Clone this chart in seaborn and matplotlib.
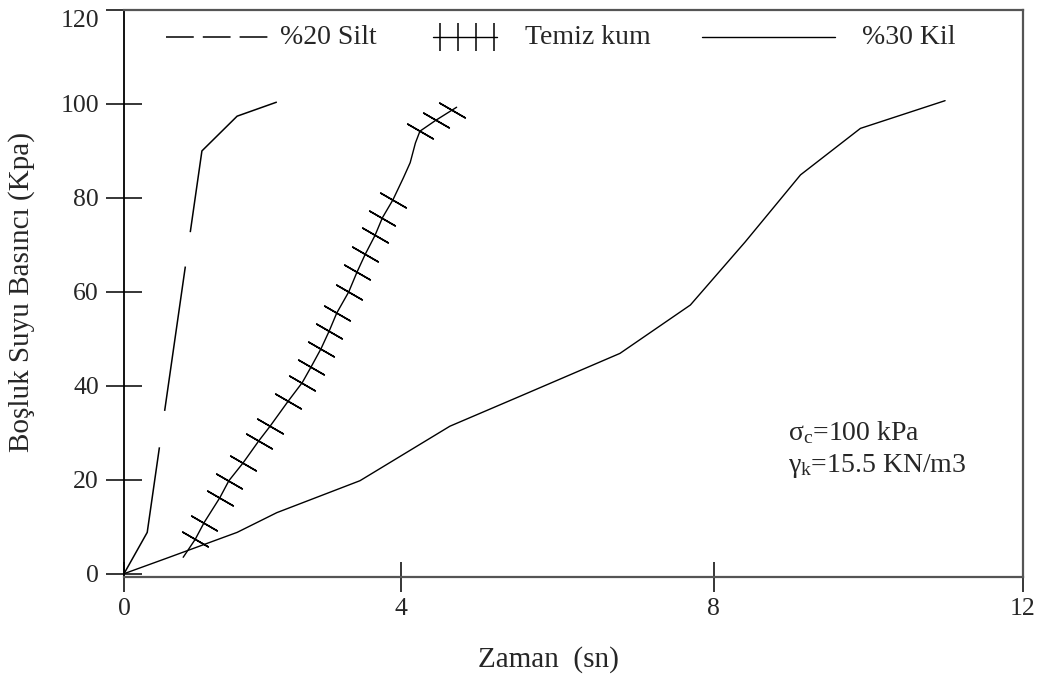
import matplotlib
matplotlib.use("Agg")
import matplotlib.pyplot as plt
import seaborn as sns

# %20 Silt
silt_x = [0, 0.31, 1.04, 1.51, 2.04]
silt_y = [0, 8.8, 90.0, 97.4, 100.4]

# Temiz kum
kum_x = [0.79, 0.95, 1.07, 1.28, 1.40, 1.59, 1.80, 1.95, 2.19, 2.38, 2.50, 2.63, 2.74, 2.84,
         3.00, 3.11, 3.22, 3.35, 3.45, 3.59, 3.73, 3.82, 3.89, 3.95, 4.16, 4.38, 4.44]
kum_y = [3.5, 7.3, 10.9, 16.2, 19.8, 23.6, 28.3, 31.4, 36.7, 40.7, 44.1, 47.9, 51.7, 55.5,
         60.0, 64.2, 68.0, 72.0, 75.8, 79.6, 84.3, 87.5, 91.7, 94.2, 96.5, 98.7, 99.3]
kum_marks = list(range(1, 20)) + [23, 24, 25]

# %30 Kil
kil_x = [0, 0.57, 1.51, 2.04, 3.15, 4.35, 5.29, 6.62, 7.56, 8.29, 9.03, 9.83, 10.96]
kil_y = [0, 3.3, 8.8, 13.0, 19.8, 31.4, 37.8, 46.9, 57.2, 70.6, 84.9, 94.8, 100.7]

xticks = [0, 3.70, 7.87, 12]
xtick_labels = ["0", "4", "8", "12"]
yticks = [0, 20, 40, 60, 80, 100, 120]

sns.set_theme(style="white")
plt.rcParams["font.family"] = ["Liberation Serif", "DejaVu Serif"]
plt.rcParams["mathtext.fontset"] = "custom"
plt.rcParams["mathtext.rm"] = "Liberation Serif"
plt.rcParams["lines.scale_dashes"] = False

fig = plt.figure(figsize=(10.49, 6.75), dpi=100)
ax = fig.add_axes([124 / 1049, 1 - 577 / 675, 899 / 1049, 567 / 675])

sns.lineplot(x=silt_x, y=silt_y, ax=ax, sort=False, estimator=None, color="black",
             lw=1.1, linestyle=(0, (96, 26.5, 105, 25, 150, 30)))
sns.lineplot(x=kum_x, y=kum_y, ax=ax, sort=False, estimator=None, color="black", lw=1.0,
             marker=(2, 2, 60), markersize=22, markeredgewidth=1.1, markeredgecolor="black",
             markevery=kum_marks)
sns.lineplot(x=kil_x, y=kil_y, ax=ax, sort=False, estimator=None, color="black", lw=1.0)

ax.set_xlim(0, 12)
ax.set_ylim(-0.7, 120)
ax.set_xticks(xticks)
ax.set_xticklabels(xtick_labels)
ax.set_yticks(yticks)
ax.tick_params(axis="x", direction="inout", length=22, width=1.1, color="black",
               labelsize=18.5, pad=4, bottom=True)
ax.tick_params(axis="y", direction="inout", length=26, width=1.1, color="black",
               labelsize=18.5, pad=5, left=True)
# top label sits just under the frame, as in the original
ax.yaxis.get_major_ticks()[-1].label1.set_verticalalignment("top")
for side in ["top", "right", "bottom"]:
    ax.spines[side].set_color("#555555")
    ax.spines[side].set_linewidth(1.6)
ax.spines["left"].set_color("black")
ax.spines["left"].set_linewidth(1.3)

ax.set_xlabel("Zaman  (sn)", fontsize=21, va="center")
ax.xaxis.set_label_coords((548 - 124) / 899, (577 - 660) / 567)
ax.set_ylabel("Boşluk Suyu Basıncı (Kpa)", fontsize=21, va="center")
ax.yaxis.set_label_coords((22 - 124) / 899, (577 - 292) / 567)

# legend drawn by hand, like the original
def fx(px):
    return (px - 124) / 899

def fy(py):
    return (577 - py) / 567

ly = fy(37)
ax.plot([fx(166), fx(268)], [ly, ly], transform=ax.transAxes, color="black", lw=1.1,
        linestyle=(0, (20, 6.5)))
ax.text(fx(280), ly, "%20 Silt", transform=ax.transAxes, fontsize=20, va="center")
ax.plot([fx(433), fx(497)], [ly, ly], transform=ax.transAxes, color="black", lw=1.0)
ax.plot([fx(440), fx(458), fx(476), fx(494)], [ly] * 4, transform=ax.transAxes,
        linestyle="none", marker="|", markersize=20, markeredgewidth=1.1, color="black")
ax.text(fx(525), ly, "Temiz kum", transform=ax.transAxes, fontsize=20, va="center")
ax.plot([fx(702), fx(835)], [ly, ly], transform=ax.transAxes, color="black", lw=1.0)
ax.text(fx(862), ly, "%30 Kil", transform=ax.transAxes, fontsize=20, va="center")

ax.text(fx(788), fy(433), r"$\mathregular{\sigma_c}$=100 kPa",
        transform=ax.transAxes, fontsize=20, va="center")
ax.text(fx(788), fy(466), r"$\mathregular{\gamma_k}$=15.5 KN/m3",
        transform=ax.transAxes, fontsize=20, va="center")

fig.savefig("out.png", dpi=100)
